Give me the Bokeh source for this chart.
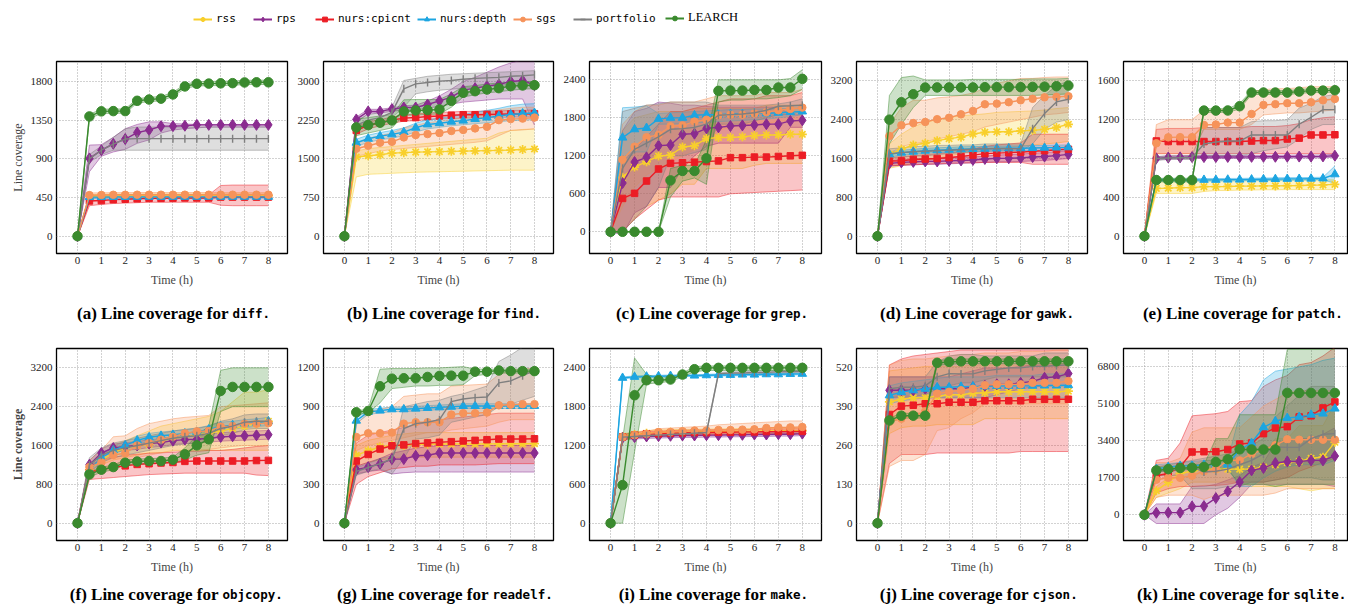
import math
from bokeh.plotting import figure
from bokeh.layouts import column, row
from bokeh.models import Range1d, FixedTicker, Legend, LegendItem, Label
from bokeh.embed import file_html
from bokeh.resources import INLINE

hours = [0, 0.5, 1, 1.5, 2, 2.5, 3, 3.5, 4, 4.5, 5, 5.5, 6, 6.5, 7, 7.5, 8]
x_ticks = [0, 1, 2, 3, 4, 5, 6, 7, 8]
series_names = ["rss", "rps", "nurs:cpicnt", "nurs:depth", "sgs", "portfolio", "LEARCH"]

# ---------------- (a) diff ----------------
diff_yticks = [0, 450, 900, 1350, 1800]
diff_rss = [0,465,468,470,470,470,472,472,472,472,472,472,472,472,472,472,472]
diff_rss_lo = [0,445,448,450,450,450,452,452,452,452,452,452,452,452,452,452,452]
diff_rss_hi = [0,485,488,490,490,490,492,492,492,492,492,492,492,492,492,492,492]
diff_rps = [0,905,1000,1075,1130,1205,1235,1280,1280,1285,1295,1295,1295,1295,1295,1295,1295]
diff_rps_lo = [0,750,930,980,1010,1080,1120,1200,1235,1250,1260,1270,1270,1270,1270,1270,1270]
diff_rps_hi = [0,1060,1065,1150,1250,1300,1330,1330,1310,1305,1300,1300,1300,1300,1300,1300,1300]
diff_cpi = [0,410,415,425,430,435,440,440,443,445,445,445,455,455,455,455,455]
diff_cpi_lo = [0,355,370,380,385,390,395,395,395,395,395,395,360,355,355,355,355]
diff_cpi_hi = [0,470,470,475,475,478,480,480,480,480,480,480,590,595,595,595,595]
diff_dep = [0,455,455,457,457,458,458,458,458,458,458,458,458,458,458,458,458]
diff_dep_lo = [0,440,440,442,442,443,443,443,443,443,443,443,443,443,443,443,443]
diff_dep_hi = [0,470,470,472,472,473,473,473,473,473,473,473,473,473,473,473,473]
diff_sgs = [0,478,480,482,482,483,483,483,483,483,483,483,483,483,483,483,483]
diff_sgs_lo = [0,458,460,462,462,463,463,463,463,463,463,463,463,463,463,463,463]
diff_sgs_hi = [0,503,505,507,507,508,508,508,508,508,508,508,508,508,508,508,508]
diff_por = [0,900,1000,1070,1130,1135,1135,1135,1135,1135,1135,1135,1135,1135,1135,1135,1135]
diff_por_lo = [0,860,950,1000,1000,1000,1000,1000,1000,1000,1000,1000,1000,1000,1000,1000,1000]
diff_por_hi = [0,950,1050,1150,1250,1270,1270,1270,1270,1270,1270,1270,1270,1270,1270,1270,1270]
diff_lea = [0,1393,1452,1455,1455,1575,1590,1600,1649,1742,1773,1775,1778,1780,1788,1790,1790]
diff_lea_lo = [0,1368,1427,1430,1430,1550,1565,1575,1624,1717,1748,1750,1753,1755,1763,1765,1765]
diff_lea_hi = [0,1418,1477,1480,1480,1600,1615,1625,1674,1767,1798,1800,1803,1805,1813,1815,1815]

# ---------------- (b) find ----------------
find_yticks = [0, 750, 1500, 2250, 3000]
find_rss = [0,1535,1560,1580,1610,1620,1630,1635,1640,1645,1650,1655,1660,1665,1670,1680,1690]
find_rss_lo = [0,1150,1200,1210,1220,1230,1240,1245,1250,1255,1260,1265,1270,1275,1280,1280,1280]
find_rss_hi = [0,1650,1700,1720,1740,1760,1780,1800,1820,1840,1860,1880,1900,2000,2050,2070,2080]
find_rps = [0,2264,2419,2419,2464,2496,2496,2554,2625,2696,2832,2870,2909,2941,3000,3019,2928]
find_rps_lo = [0,2200,2380,2390,2420,2450,2450,2480,2520,2560,2600,2620,2640,2660,2660,2660,2150]
find_rps_hi = [0,2310,2460,2460,2490,2530,2540,2620,2720,2850,3000,3080,3180,3280,3360,3420,3450]
find_cpi = [0,2050,2150,2200,2250,2290,2300,2320,2330,2345,2355,2355,2360,2365,2370,2370,2375]
find_cpi_lo = [0,1980,2080,2140,2190,2230,2240,2260,2270,2280,2290,2290,2300,2300,2310,2310,2310]
find_cpi_hi = [0,2120,2220,2260,2310,2350,2370,2390,2400,2410,2420,2420,2430,2430,2440,2440,2450]
find_dep = [0,1812,1890,1941,1974,2019,2103,2167,2190,2220,2240,2270,2300,2330,2360,2380,2390]
find_dep_lo = [0,1740,1820,1870,1900,1950,2020,2080,2110,2140,2160,2180,2200,2220,2240,2250,2260]
find_dep_hi = [0,1880,1960,2010,2050,2100,2190,2260,2290,2320,2360,2400,2440,2480,2530,2560,2570]
find_sgs = [0,1696,1754,1812,1830,1916,1961,1980,2000,2040,2060,2090,2120,2250,2270,2280,2300]
find_sgs_lo = [0,1550,1600,1650,1680,1700,1720,1740,1760,1780,1800,1820,1850,1950,2050,2060,2080]
find_sgs_hi = [0,1800,1900,1950,2000,2100,2150,2200,2230,2260,2300,2330,2350,2450,2480,2500,2500]
find_por = [0,2150,2250,2300,2400,2857,2954,2980,3006,3020,3044,3060,3070,3080,3100,3110,3128]
find_por_lo = [0,2050,2150,2200,2300,2500,2760,2800,2830,2850,2870,2880,2900,2920,2940,2960,2980]
find_por_hi = [0,2250,2350,2400,2500,3019,3060,3100,3120,3140,3150,3160,3170,3180,3190,3200,3210]
find_lea = [0,2109,2154,2200,2245,2419,2438,2445,2457,2625,2780,2812,2844,2870,2909,2922,2928]
find_lea_lo = [0,1950,2000,2050,2100,2341,2350,2360,2370,2500,2700,2740,2780,2800,2830,2850,2860]
find_lea_hi = [0,2270,2300,2330,2360,2644,2650,2650,2650,2760,2900,2920,2950,2970,2990,3000,3000]

# ---------------- (c) grep ----------------
grep_yticks = [0, 600, 1200, 1800, 2400]
grep_rss = [0,860,1023,1108,1197,1210,1340,1360,1472,1490,1490,1500,1520,1530,1530,1540,1540]
grep_rss_lo = [0,0,200,400,500,600,750,750,1000,1000,1000,1000,1050,1080,1080,1080,1080]
grep_rss_hi = [0,1600,1800,1850,1900,1900,1900,1950,1950,1950,1950,1950,1950,2000,2000,2000,2000]
grep_rps = [0,770,1102,1176,1361,1370,1540,1550,1635,1650,1670,1680,1688,1700,1700,1751,1760]
grep_rps_lo = [0,-50,300,400,700,700,1000,1200,1350,1400,1400,1400,1400,1400,1400,1650,1650]
grep_rps_hi = [0,1600,1900,1950,2050,2030,2000,2000,1980,1970,1970,1970,1970,1970,1970,1850,1850]
grep_cpi = [0,527,607,802,992,1081,1090,1100,1110,1120,1171,1171,1180,1180,1190,1200,1208]
grep_cpi_lo = [0,0,200,350,500,550,550,550,550,550,600,610,620,630,640,650,660]
grep_cpi_hi = [0,1100,1300,1500,1700,1900,1900,1950,2000,2050,2100,2100,2100,2150,2150,2150,2200]
grep_dep = [0,1487,1619,1640,1783,1800,1800,1840,1850,1850,1860,1860,1870,1870,1880,1890,1900]
grep_dep_lo = [0,1055,1260,1260,1700,1700,1710,1720,1730,1740,1750,1760,1770,1780,1800,1820,1850]
grep_dep_hi = [0,1960,1970,1990,1870,1880,1890,1900,1910,1920,1930,1930,1940,1940,1950,1950,1960]
grep_sgs = [0,1139,1345,1493,1530,1667,1680,1741,1770,1840,1850,1850,1870,1890,1920,1940,1962]
grep_sgs_lo = [0,400,700,900,1000,1100,1200,1300,1400,1600,1650,1700,1700,1700,1750,1750,1750]
grep_sgs_hi = [0,1700,1900,2000,2000,2050,2050,2050,2100,2150,2150,2150,2150,2200,2200,2200,2250]
grep_por = [0,1000,1300,1400,1500,1619,1630,1650,1700,1840,1850,1860,1880,1920,1983,1990,2000]
grep_por_lo = [0,0,200,400,700,1200,1200,1250,1300,1700,1700,1700,1750,1800,1850,1850,1900]
grep_por_hi = [0,1900,1950,2000,2020,2050,2050,2050,2050,2000,2000,2000,2000,2000,2020,2050,2100]
grep_lea = [0,0,0,0,0,812,960,960,1160,2226,2230,2230,2240,2240,2279,2279,2416]
grep_lea_lo = [0,0,0,0,0,550,800,850,750,2050,2080,2080,2100,2100,2120,2150,2250]
grep_lea_hi = [0,0,0,0,0,1000,1050,1050,1450,2400,2400,2400,2400,2400,2400,2420,2560]

# ---------------- (d) gawk ----------------
gawk_yticks = [0, 800, 1600, 2400, 3200]
gawk_rss = [0,1685,1789,1878,1913,1968,2009,2040,2105,2140,2150,2150,2170,2180,2200,2240,2305]
gawk_rss_lo = [0,1400,1450,1500,1550,1600,1650,1700,1750,1800,1820,1830,1850,1880,1900,1920,1950]
gawk_rss_hi = [0,1900,2100,2250,2350,2400,2450,2480,2500,2520,2550,2560,2570,2580,2600,2630,2650]
gawk_rps = [0,1500,1520,1530,1540,1540,1550,1560,1570,1590,1603,1605,1610,1630,1640,1660,1685]
gawk_rps_lo = [0,1440,1460,1470,1480,1480,1490,1500,1510,1520,1530,1530,1540,1550,1560,1580,1600]
gawk_rps_hi = [0,1560,1580,1590,1600,1600,1610,1620,1630,1650,1670,1680,1690,1710,1720,1740,1760]
gawk_cpi = [0,1548,1550,1580,1590,1600,1620,1640,1670,1700,1710,1720,1730,1750,1760,1780,1790]
gawk_cpi_lo = [0,1450,1460,1470,1480,1490,1500,1510,1510,1520,1520,1520,1520,1480,1480,1480,1480]
gawk_cpi_hi = [0,1620,1640,1660,1680,1700,1720,1740,1800,1850,1880,1900,1920,2100,2100,2100,2100]
gawk_dep = [0,1685,1720,1740,1760,1770,1780,1790,1795,1800,1805,1810,1810,1815,1820,1825,1830]
gawk_dep_lo = [0,1630,1670,1690,1710,1720,1730,1740,1745,1750,1755,1760,1760,1765,1770,1775,1780]
gawk_dep_hi = [0,1740,1770,1790,1810,1820,1830,1840,1845,1850,1855,1860,1860,1865,1870,1875,1880]
gawk_sgs = [0,2064,2284,2330,2353,2410,2440,2510,2580,2717,2730,2760,2800,2830,2860,2870,2883]
gawk_sgs_lo = [0,1700,1850,1900,1950,2000,2050,2100,2150,2250,2300,2350,2400,2450,2500,2520,2550]
gawk_sgs_hi = [0,2300,2650,2800,2800,2850,2870,2900,2950,3050,3150,3200,3250,3250,3270,3280,3280]
gawk_por = [0,1700,1720,1740,1750,1760,1770,1780,1790,1800,1800,1800,1800,2215,2525,2766,2821]
gawk_por_lo = [0,1600,1620,1650,1650,1680,1700,1720,1720,1750,1750,1750,1750,1900,2200,2350,2400]
gawk_por_hi = [0,1800,1820,1850,1850,1870,1870,1880,1880,1900,1900,1900,1900,2650,2900,3100,3200]
gawk_lea = [0,2401,2759,2924,3062,3065,3065,3065,3065,3070,3070,3070,3070,3075,3080,3090,3103]
gawk_lea_lo = [0,1900,2300,2650,2900,2900,2900,2900,2900,2900,2900,2900,2900,2900,2910,2920,2930]
gawk_lea_hi = [0,2900,3268,3300,3220,3220,3220,3220,3230,3230,3230,3230,3230,3240,3240,3240,3250]

# ---------------- (e) patch ----------------
patch_yticks = [0, 400, 800, 1200, 1600]
patch_rss = [0,492,495,500,500,510,510,512,515,515,518,518,520,522,525,528,533]
patch_rss_lo = [0,440,440,440,440,460,470,470,475,475,478,478,480,480,480,480,480]
patch_rss_hi = [0,560,560,560,560,580,580,580,580,580,580,580,580,580,580,580,580]
patch_rps = [0,802,810,812,815,815,815,816,816,817,818,818,819,820,820,822,829]
patch_rps_lo = [0,785,795,797,800,800,800,801,801,802,803,803,804,805,805,807,814]
patch_rps_hi = [0,819,825,827,830,830,830,831,831,832,833,833,834,835,835,837,844]
patch_cpi = [0,981,975,975,975,975,975,975,975,980,985,985,1001,1010,1043,1043,1045]
patch_cpi_lo = [0,850,850,850,850,850,850,850,850,850,850,850,850,850,850,850,850]
patch_cpi_hi = [0,1100,1110,1110,1110,1120,1120,1120,1120,1130,1130,1130,1140,1160,1200,1220,1230]
patch_dep = [0,578,578,578,578,580,580,582,582,584,586,588,590,590,592,594,637]
patch_dep_lo = [0,565,565,565,565,567,567,569,569,571,573,575,577,577,579,581,545]
patch_dep_hi = [0,591,591,591,591,593,593,595,595,597,599,601,603,603,605,607,723]
patch_sgs = [0,957,1018,1020,1020,1146,1150,1170,1170,1259,1352,1360,1370,1370,1380,1400,1414]
patch_sgs_lo = [0,850,850,850,850,1100,1100,1100,1100,1150,1250,1260,1270,1270,1280,1290,1300]
patch_sgs_hi = [0,1150,1200,1200,1200,1300,1300,1310,1320,1490,1510,1520,1520,1530,1540,1540,1540]
patch_por = [0,800,805,808,810,950,970,980,980,1043,1043,1043,1043,1153,1225,1304,1304]
patch_por_lo = [0,780,790,790,790,830,830,830,830,850,880,900,920,1000,1100,1150,1150]
patch_por_hi = [0,820,830,830,830,1120,1120,1120,1120,1180,1190,1190,1200,1320,1370,1440,1460]
patch_lea = [0,578,578,578,578,1294,1294,1295,1339,1480,1480,1480,1480,1490,1500,1500,1504]
patch_lea_lo = [0,560,560,560,560,1275,1275,1276,1310,1460,1460,1460,1460,1470,1480,1480,1484]
patch_lea_hi = [0,596,596,596,596,1313,1313,1314,1368,1500,1500,1500,1500,1510,1520,1520,1524]

# ---------------- (f) objcopy ----------------
objcopy_yticks = [0, 800, 1600, 2400, 3200]
objcopy_rss = [0,1100,1300,1450,1550,1600,1620,1700,1750,1780,1820,1850,1900,1950,2000,2050,2100]
objcopy_rss_lo = [0,1000,1200,1300,1350,1400,1450,1450,1500,1500,1500,1500,1500,1500,1500,1500,1500]
objcopy_rss_hi = [0,1200,1400,1600,1700,1800,1900,2000,2050,2100,2150,2200,2300,2500,2700,2700,2750]
objcopy_rps = [0,1204,1445,1548,1580,1600,1640,1660,1700,1720,1730,1750,1775,1790,1800,1810,1823]
objcopy_rps_lo = [0,1120,1360,1460,1500,1520,1560,1580,1620,1640,1650,1670,1690,1700,1710,1720,1730]
objcopy_rps_hi = [0,1290,1530,1630,1660,1680,1720,1740,1780,1800,1810,1830,1860,1880,1890,1900,1910]
objcopy_cpi = [0,1050,1100,1150,1180,1210,1225,1240,1250,1273,1280,1280,1280,1280,1280,1290,1293]
objcopy_cpi_lo = [0,900,920,940,960,980,1000,1010,1020,1030,1030,1030,1030,1030,1030,990,980]
objcopy_cpi_hi = [0,1200,1300,1350,1400,1420,1440,1450,1460,1480,1480,1500,1500,1520,1550,1580,1600]
objcopy_dep = [0,1087,1348,1500,1603,1706,1770,1800,1820,1850,1880,1930,1995,2020,2050,2070,2098]
objcopy_dep_lo = [0,1000,1260,1420,1520,1620,1690,1720,1740,1770,1800,1850,1910,1940,1970,1990,2010]
objcopy_dep_hi = [0,1170,1430,1580,1690,1790,1850,1880,1900,1930,1960,2010,2080,2100,2130,2150,2180]
objcopy_sgs = [0,1156,1252,1404,1440,1600,1650,1720,1780,1850,1892,1900,1990,2000,2050,2050,2060]
objcopy_sgs_lo = [0,1000,1100,1200,1250,1350,1400,1450,1480,1500,1500,1520,1550,1580,1600,1600,1600]
objcopy_sgs_hi = [0,1300,1500,1780,1800,1950,2050,2100,2150,2180,2200,2220,2400,2420,2440,2460,2480]
objcopy_por = [0,1200,1400,1500,1550,1600,1650,1700,1750,1780,1800,1850,1950,2000,2080,2100,2100]
objcopy_por_lo = [0,1050,1250,1350,1400,1450,1500,1550,1600,1630,1650,1700,1800,1850,1930,1950,1950]
objcopy_por_hi = [0,1350,1550,1650,1700,1750,1800,1850,1900,1930,1950,2000,2100,2150,2230,2250,2250]
objcopy_lea = [0,1004,1101,1156,1245,1270,1280,1280,1307,1417,1603,1727,2724,2807,2807,2807,2807]
objcopy_lea_lo = [0,950,1050,1100,1200,1220,1230,1230,1250,1300,1400,1450,2300,2400,2400,2400,2400]
objcopy_lea_hi = [0,1050,1150,1200,1300,1320,1330,1340,1360,1550,1800,2000,3150,3200,3200,3200,3200]

# ---------------- (g) readelf ----------------
readelf_yticks = [0, 300, 600, 900, 1200]
readelf_rss = [0,524,560,590,600,600,610,610,612,612,612,612,613,613,614,614,614]
readelf_rss_lo = [0,440,470,490,500,510,510,510,510,510,510,510,510,510,510,510,510]
readelf_rss_hi = [0,600,640,660,680,690,700,700,700,700,700,700,700,700,700,700,700]
readelf_rps = [0,413,433,459,495,495,521,525,542,542,542,542,542,542,542,542,542]
readelf_rps_lo = [0,380,400,410,380,390,395,395,395,395,395,395,395,395,395,395,395]
readelf_rps_hi = [0,440,470,500,540,560,580,590,600,600,600,600,600,600,600,600,600]
readelf_cpi = [0,480,531,573,598,605,615,620,625,630,635,640,645,650,650,650,652]
readelf_cpi_lo = [0,300,360,390,420,430,440,440,450,450,450,450,455,460,460,460,460]
readelf_cpi_hi = [0,620,680,700,720,740,760,780,800,810,820,830,840,850,850,850,850]
readelf_dep = [0,792,859,870,880,880,885,890,895,900,905,905,905,905,905,905,906]
readelf_dep_lo = [0,770,840,852,862,862,867,872,877,882,887,887,887,887,887,887,888]
readelf_dep_hi = [0,814,878,888,898,898,903,908,913,918,923,923,923,923,923,923,924]
readelf_sgs = [0,666,695,695,700,769,780,780,780,839,850,850,855,911,915,920,920]
readelf_sgs_lo = [0,560,600,620,640,660,680,700,700,720,730,740,750,780,800,800,800]
readelf_sgs_hi = [0,760,860,880,900,980,990,1000,1000,1060,1065,1070,1075,1150,1180,1190,1200]
readelf_por = [0,400,430,460,498,730,769,780,800,939,960,970,975,1084,1100,1140,1180]
readelf_por_lo = [0,370,400,420,380,500,650,660,680,780,800,820,840,900,920,950,980]
readelf_por_hi = [0,430,460,500,520,900,920,940,950,980,1000,1030,1060,1250,1300,1360,1400]
readelf_lea = [0,857,867,1058,1117,1120,1120,1130,1138,1140,1140,1171,1171,1180,1175,1175,1175]
readelf_lea_lo = [0,840,850,930,1040,1050,1060,1060,1065,1065,1070,1140,1150,1160,1160,1160,1160]
readelf_lea_hi = [0,870,880,1190,1195,1195,1195,1200,1200,1205,1210,1190,1190,1190,1190,1190,1190]

# ---------------- (i) make ----------------
make_yticks = [0, 600, 1200, 1800, 2400]
make_rss = [0,1340,1370,1390,1400,1405,1410,1410,1415,1415,1420,1420,1420,1425,1425,1430,1430]
make_rss_lo = [0,1300,1330,1350,1360,1365,1370,1370,1375,1375,1380,1380,1380,1385,1385,1390,1390]
make_rss_hi = [0,1380,1410,1430,1440,1445,1450,1450,1455,1455,1460,1460,1460,1465,1465,1470,1470]
make_rps = [0,1320,1330,1340,1345,1350,1355,1355,1360,1360,1365,1365,1370,1370,1375,1375,1383]
make_rps_lo = [0,1290,1300,1310,1315,1320,1325,1325,1330,1330,1335,1335,1340,1340,1345,1345,1353]
make_rps_hi = [0,1350,1360,1370,1375,1380,1385,1385,1390,1390,1395,1395,1400,1400,1405,1405,1413]
make_cpi = [0,1330,1360,1380,1380,1390,1395,1400,1400,1405,1405,1410,1410,1415,1415,1418,1419]
make_cpi_lo = [0,1290,1320,1340,1340,1350,1355,1360,1360,1365,1365,1370,1370,1375,1375,1378,1379]
make_cpi_hi = [0,1370,1400,1420,1420,1430,1435,1440,1440,1445,1445,1450,1450,1455,1455,1458,1459]
make_dep = [0,2245,2260,2265,2270,2275,2280,2280,2285,2290,2290,2295,2295,2300,2300,2305,2307]
make_dep_lo = [0,2230,2245,2250,2255,2260,2265,2265,2270,2275,2275,2280,2280,2285,2285,2290,2292]
make_dep_hi = [0,2260,2275,2280,2285,2290,2295,2295,2300,2305,2305,2310,2310,2315,2315,2320,2322]
make_sgs = [0,1331,1360,1380,1409,1410,1420,1430,1430,1440,1440,1445,1450,1470,1480,1480,1486]
make_sgs_lo = [0,1300,1320,1340,1360,1360,1370,1380,1380,1390,1390,1395,1400,1410,1420,1420,1420]
make_sgs_hi = [0,1360,1390,1420,1460,1470,1480,1490,1500,1520,1530,1540,1550,1560,1570,1580,1580]
make_por = [0,1330,1340,1350,1360,1370,1380,1390,1400,2310,2320,2320,2330,2330,2340,2340,2350]
make_por_lo = [0,1310,1320,1330,1340,1350,1360,1370,1380,2290,2300,2300,2310,2310,2320,2320,2330]
make_por_hi = [0,1350,1360,1370,1380,1390,1400,1410,1420,2330,2340,2340,2350,2350,2360,2360,2370]
make_lea = [0,588,1976,2208,2208,2220,2296,2379,2400,2400,2400,2400,2400,2400,2400,2400,2400]
make_lea_lo = [0,0,1100,2150,2170,2190,2260,2340,2360,2360,2360,2360,2360,2360,2360,2360,2360]
make_lea_hi = [0,1300,2554,2300,2240,2250,2320,2420,2430,2430,2430,2430,2430,2430,2430,2430,2430]

# ---------------- (j) cjson ----------------
cjson_yticks = [0, 130, 260, 390, 520]
cjson_rss = [0,406,415,420,420,425,430,430,435,437,440,440,440,440,440,440,442]
cjson_rss_lo = [0,300,320,325,325,330,330,330,330,350,350,350,350,350,350,350,350]
cjson_rss_hi = [0,510,515,520,525,525,525,525,530,530,530,530,530,530,530,530,530]
cjson_rps = [0,445,445,445,450,450,450,450,455,460,465,465,470,475,487,490,501]
cjson_rps_lo = [0,420,420,420,420,420,420,420,420,420,430,440,450,455,460,460,460]
cjson_rps_hi = [0,490,490,490,490,490,490,500,510,520,520,520,525,530,530,530,530]
cjson_cpi = [0,364,392,395,400,400,405,405,405,410,410,410,410,415,415,415,415]
cjson_cpi_lo = [0,200,230,230,230,235,235,235,235,235,235,235,240,240,240,240,240]
cjson_cpi_hi = [0,530,550,560,565,570,575,580,580,580,580,580,580,580,580,580,580]
cjson_dep = [0,428,439,445,450,455,455,457,458,458,459,460,460,460,461,461,462]
cjson_dep_lo = [0,400,410,415,420,420,420,420,420,420,420,420,420,420,420,420,420]
cjson_dep_hi = [0,460,470,475,480,485,490,490,490,490,495,495,495,495,500,500,500]
cjson_sgs = [0,340,350,360,374,434,440,445,450,462,465,465,465,470,470,470,476]
cjson_sgs_lo = [0,190,210,210,230,310,320,350,370,400,400,400,400,400,400,400,400]
cjson_sgs_hi = [0,530,545,550,550,555,560,565,565,570,570,570,575,575,575,580,580]
cjson_por = [0,450,455,455,460,490,501,500,500,510,515,520,520,525,525,528,530]
cjson_por_lo = [0,420,425,425,430,450,460,470,470,480,490,490,490,490,490,490,490]
cjson_por_hi = [0,490,490,490,490,540,560,565,565,560,560,560,560,560,570,570,570]
cjson_lea = [0,344,360,360,360,537,540,542,542,542,542,542,542,542,542,542,542]
cjson_lea_lo = [0,336,352,352,352,529,532,534,534,534,534,534,534,534,534,534,534]
cjson_lea_hi = [0,352,368,368,368,545,548,550,550,550,550,550,550,550,550,550,550]

# ---------------- (k) sqlite ----------------
sqlite_yticks = [0, 1700, 3400, 5100, 6800]
sqlite_rss = [0,1105,1500,1900,2000,2100,2100,2100,2100,2100,2200,2300,2400,2450,2600,2650,3331]
sqlite_rss_lo = [0,800,1000,1200,1500,1500,1500,1500,1500,1300,1300,1300,1300,1200,1100,1200,1200]
sqlite_rss_hi = [0,1300,1700,2000,2300,2500,2500,2550,2600,2700,2800,3500,3500,4100,4100,4100,5100]
sqlite_rps = [0,92,100,100,384,400,768,1075,1504,2041,2149,2379,2450,2450,2500,2500,2702]
sqlite_rps_lo = [0,-400,-400,-400,-400,-400,0,300,800,1400,1400,1400,1400,1400,1400,1400,1300]
sqlite_rps_hi = [0,500,500,500,1300,1300,1400,1600,1800,2200,2400,3300,3400,3500,3500,3700,4000]
sqlite_cpi = [0,1796,1900,2200,2886,2900,2900,3000,3254,3300,3730,3991,4050,4498,4550,4912,5188]
sqlite_cpi_lo = [0,1000,1200,1300,1300,1350,1350,1400,1500,1500,1500,1600,1700,2000,2200,2400,2600]
sqlite_cpi_hi = [0,2500,2600,3300,4550,4600,4650,4750,5200,5250,5900,6200,6400,6900,7000,7300,7700]
sqlite_dep = [0,2100,2200,2250,2250,2300,2300,2300,3000,3300,4022,4300,4450,4500,4600,4650,4881]
sqlite_dep_lo = [0,2000,2050,2100,2100,2100,2100,2100,1300,1300,1700,2000,2200,2300,2300,2300,2500]
sqlite_dep_hi = [0,2300,2350,2400,2450,2500,2500,2500,4600,5200,6200,6600,6700,6800,6900,7100,7200]
sqlite_sgs = [0,1612,1700,1700,1800,2000,2100,2500,2500,2800,3000,3200,3469,3450,3450,3450,3450]
sqlite_sgs_lo = [0,800,900,900,900,700,900,900,900,900,900,1000,1200,1200,1200,1200,1200]
sqlite_sgs_hi = [0,2400,2400,2600,3800,4000,4000,4000,4000,4500,5000,5300,5600,5700,5700,5700,5700]
sqlite_por = [0,2000,2050,2100,2200,1965,2000,2100,2300,2500,2800,3116,3100,3100,3500,3700,3730]
sqlite_por_lo = [0,1800,1800,1800,1200,1200,1200,1300,1300,1500,1500,1600,1700,1700,1700,1600,1600]
sqlite_por_hi = [0,2200,2300,2400,2500,2600,2700,2800,3000,3200,3500,4500,5000,5500,5900,5900,5900]
sqlite_lea = [0,2041,2100,2150,2164,2200,2425,2550,3009,3000,3000,3000,5603,5600,5600,5600,5600]
sqlite_lea_lo = [0,2000,2000,2050,2100,2100,2100,2100,1400,1400,1400,1300,1400,1400,1400,1400,1400]
sqlite_lea_hi = [0,2200,2200,2250,2300,2300,3500,3500,4600,4600,4600,4600,7600,7600,7600,7600,7600]

# ---------------- styles ----------------
COLORS = ["#F8CF2C", "#8A2C8F", "#EC1D25", "#1CA5E1", "#F6935A", "#7F7F7F", "#3A8A2E"]
MARKERS = ["asterisk", "diamond", "square", "triangle", "circle", "dash", "circle"]
SIZES = [9, 11, 6.5, 8.5, 7.5, 8, 9.5]
SERIF = "Liberation Serif"
MONO = "DejaVu Sans Mono"


def pack(prefix):
    g = globals()
    out = []
    for s in ["rss", "rps", "cpi", "dep", "sgs", "por", "lea"]:
        trip = (g[f"{prefix}_{s}"], g[f"{prefix}_{s}_lo"], g[f"{prefix}_{s}_hi"])
        for arr in trip:
            if len(arr) != len(hours):
                raise ValueError(f"{prefix}_{s} length {len(arr)}")
        out.append(trip)
    return out


FRAME_H = 192
# (border_left, frame_width, border_right, x_end)
COLS = [(56, 231, 2, 8.8), (34, 230, 2, 8.8), (34, 232, 2, 8.8), (33, 231, 2, 8.8), (34, 224, 1, 8.53)]


def make_panel(prefix, yrange, col, top, bottom, ylabel=None, ylabel_bold=False):
    bl, fw, br, xend = col
    p = figure(width=bl + fw + br, height=top + FRAME_H + bottom,
               x_range=Range1d(-0.88, xend), y_range=Range1d(*yrange),
               output_backend="svg", toolbar_location=None, title=None,
               min_border_left=bl, min_border_right=br, min_border_top=top, min_border_bottom=bottom)
    data = pack(prefix)
    for (mean, lo, hi), c in zip(data, COLORS):
        p.varea(x=hours, y1=lo, y2=hi, fill_color=c, fill_alpha=0.26)
        p.line(hours, lo, line_color=c, line_alpha=0.6, line_width=0.8)
        p.line(hours, hi, line_color=c, line_alpha=0.6, line_width=0.8)
    for (mean, lo, hi), c, m, s in zip(data, COLORS, MARKERS, SIZES):
        p.line(hours, mean, line_color=c, line_width=1.4)
        kw = dict(marker=m, size=s, fill_color=c, line_color=c)
        if m == "dash":
            kw.update(angle=math.pi / 2, line_width=1.4)
        if m == "asterisk":
            kw.update(line_width=1.7)
        p.scatter(hours, mean, **kw)
    p.xaxis.ticker = FixedTicker(ticks=x_ticks)
    p.yaxis.ticker = FixedTicker(ticks=globals()[f"{prefix}_yticks"])
    p.grid.grid_line_color = "#9a9a9a"
    p.grid.grid_line_dash = "1 2"
    p.grid.grid_line_width = 0.9
    p.axis.axis_line_color = None
    p.axis.major_tick_line_color = None
    p.axis.minor_tick_line_color = None
    p.axis.major_tick_out = 0
    p.axis.major_tick_in = 0
    p.axis.major_label_text_font = SERIF
    p.axis.major_label_text_font_size = "11px"
    p.axis.major_label_text_color = "#222222"
    p.xaxis.major_label_standoff = 3
    p.yaxis.major_label_standoff = 4
    p.xaxis.axis_label = "Time (h)"
    p.xaxis.axis_label_text_font = SERIF
    p.xaxis.axis_label_text_font_style = "normal"
    p.xaxis.axis_label_text_font_size = "12px"
    p.xaxis.axis_label_standoff = 6
    if ylabel:
        p.yaxis.axis_label = ylabel
        p.yaxis.axis_label_text_font = SERIF
        p.yaxis.axis_label_text_font_style = "bold" if ylabel_bold else "normal"
        p.yaxis.axis_label_text_font_size = "12px"
        p.yaxis.axis_label_standoff = 3
    p.outline_line_color = "black"
    p.outline_line_width = 1.3
    p.outline_line_alpha = 1
    return p


# Row 1
r1_top, r1_bot = 13, 45
pa = make_panel("diff", (-201, 2032), COLS[0], r1_top, r1_bot, ylabel="Line coverage")
pb = make_panel("find", (-335, 3387), COLS[1], r1_top, r1_bot)
pc = make_panel("grep", (-343, 2690), COLS[2], r1_top, r1_bot)
pd_ = make_panel("gawk", (-358, 3599), COLS[3], r1_top, r1_bot)
pe = make_panel("patch", (-179, 1800), COLS[4], r1_top, r1_bot)

# Row 2
r2_top, r2_bot = 18, 38
pf = make_panel("objcopy", (-358, 3599), COLS[0], r2_top, r2_bot, ylabel="Line coverage", ylabel_bold=True)
pg = make_panel("readelf", (-134, 1350), COLS[1], r2_top, r2_bot)
pi = make_panel("make", (-268, 2699), COLS[2], r2_top, r2_bot)
pj = make_panel("cjson", (-58, 585), COLS[3], r2_top, r2_bot)
pk = make_panel("sqlite", (-1182, 7644), COLS[4], r2_top, r2_bot)

# Legend strip (proxy glyphs sit outside the visible range, only their legend keys show)
lg = figure(width=1348, height=48, x_range=Range1d(0, 1), y_range=Range1d(0, 1),
            x_axis_type=None, y_axis_type=None, toolbar_location=None, title=None,
            output_backend="svg", min_border=0, outline_line_color=None)
legend_x = [193, 253, 315, 417, 513, 573, 665]
for name, c, m, s, lx in zip(series_names, COLORS, MARKERS, SIZES, legend_x):
    rl = lg.line(x=[5, 6], y=[5, 5], line_color=c, line_width=2)
    kw = dict(marker=m, size=s, fill_color=c, line_color=c)
    if m == "dash":
        kw.update(angle=math.pi / 2, line_width=1.6)
    if m == "asterisk":
        kw.update(line_width=1.8)
    rs = lg.scatter(x=[5], y=[5], **kw)
    is_learch = name == "LEARCH"
    leg = Legend(items=[LegendItem(label=name, renderers=[rl, rs])],
                 location=(lx, 23), orientation="horizontal",
                 glyph_width=19, glyph_height=12, label_height=12, label_standoff=4,
                 padding=0, margin=0, spacing=0, border_line_alpha=0, background_fill_alpha=0,
                 label_text_font=SERIF if is_learch else MONO,
                 label_text_font_size="12.5px" if is_learch else "11px",
                 label_text_color="black")
    lg.add_layout(leg)


def caption_fig(height, ybase, items):
    cf = figure(width=1348, height=height, x_range=Range1d(0, 1348), y_range=Range1d(0, height),
                x_axis_type=None, y_axis_type=None, toolbar_location=None, title=None,
                output_backend="svg", min_border=0, outline_line_color=None)
    for letter, prog, xm in items:
        cf.add_layout(Label(x=xm - 4, y=ybase, text=f"({letter}) Line coverage for",
                            text_align="right", text_baseline="alphabetic",
                            text_font=SERIF, text_font_style="bold", text_font_size="17px",
                            text_color="black"))
        cf.add_layout(Label(x=xm, y=ybase, text=prog + ".",
                            text_align="left", text_baseline="alphabetic",
                            text_font=MONO, text_font_style="bold", text_font_size="12.5px",
                            text_color="black"))
    return cf


cap1 = caption_fig(32, 17, [("a", "diff", 232), ("b", "find", 503), ("c", "grep", 770),
                            ("d", "gawk", 1036), ("e", "patch", 1297)])
cap2 = caption_fig(27, 11, [("f", "objcopy", 222), ("g", "readelf", 492), ("i", "make", 770),
                            ("j", "cjson", 1032), ("k", "sqlite", 1293)])

layout = column(lg, row(pa, pb, pc, pd_, pe), cap1, row(pf, pg, pi, pj, pk), cap2)

open("out.html", "w").write(file_html(layout, INLINE))
